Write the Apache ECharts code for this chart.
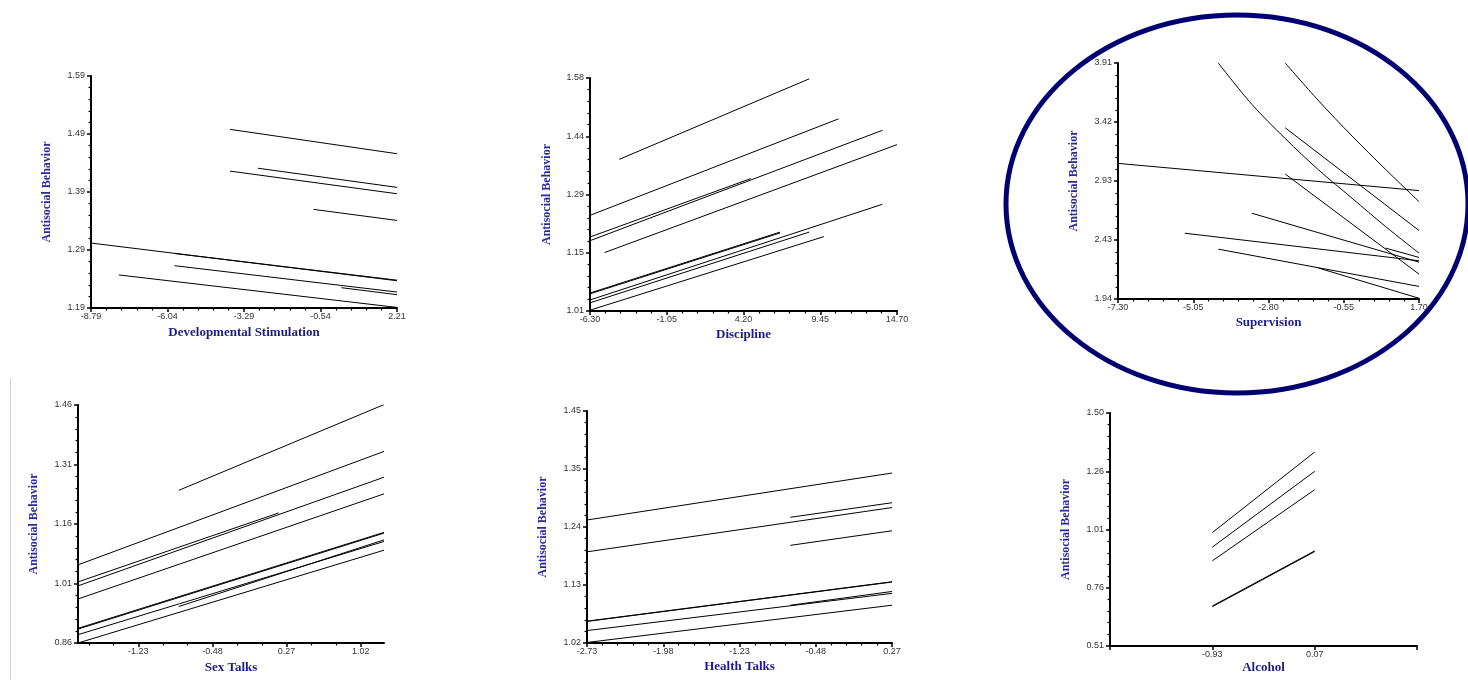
<!DOCTYPE html>
<html><head><meta charset="utf-8">
<script src="https://cdn.jsdelivr.net/npm/echarts@6/dist/echarts.min.js"></script>
<style>html,body{margin:0;padding:0;background:#fff}#c{width:1468px;height:680px}</style>
</head><body><div id="c"></div>
<script>
// ---------------- DATA ----------------
const yTitle = 'Antisocial Behavior';

const devStimTitle = 'Developmental Stimulation';
const devStimXTicks = ['-8.79', '-6.04', '-3.29', '-0.54', '2.21'];
const devStimYTicks = ['1.19', '1.29', '1.39', '1.49', '1.59'];
const devStimLines = [
  [[-3.79, 1.498], [2.21, 1.456]],
  [[-2.79, 1.431], [2.21, 1.398]],
  [[-3.79, 1.426], [2.21, 1.387]],
  [[-0.79, 1.360], [2.21, 1.341]],
  [[-8.79, 1.302], [2.21, 1.237]],
  [[-5.79, 1.284], [2.21, 1.238]],
  [[-5.79, 1.263], [2.21, 1.2175]],
  [[0.21, 1.225], [2.21, 1.213]],
  [[-7.79, 1.247], [2.21, 1.191]]
];

const disciplineTitle = 'Discipline';
const disciplineXTicks = ['-6.30', '-1.05', '4.20', '9.45', '14.70'];
const disciplineYTicks = ['1.01', '1.15', '1.29', '1.44', '1.58'];
const disciplineLines = [
  [[-4.3, 1.381], [8.7, 1.578]],
  [[-6.3, 1.244], [10.7, 1.480]],
  [[-6.3, 1.191], [4.7, 1.334]],
  [[-6.3, 1.182], [13.7, 1.452]],
  [[-5.3, 1.153], [14.7, 1.417]],
  [[-6.3, 1.052], [6.7, 1.201]],
  [[-6.3, 1.054], [6.7, 1.203]],
  [[-6.3, 1.030], [8.7, 1.203]],
  [[-6.3, 1.037], [13.7, 1.271]],
  [[-6.3, 1.012], [9.7, 1.192]]
];

const supervisionTitle = 'Supervision';
const supervisionXTicks = ['-7.30', '-5.05', '-2.80', '-0.55', '1.70'];
const supervisionYTicks = ['1.94', '2.43', '2.93', '3.42', '3.91'];
const supervisionLines = [
  [[-7.3, 3.072], [1.7, 2.845]],
  [[-2.3, 3.910], [-1.3, 3.594], [-0.3, 3.300], [0.7, 3.022], [1.7, 2.753]],
  [[-4.3, 3.910], [-3.3, 3.566], [-2.3, 3.280], [-1.3, 3.017], [-0.3, 2.781], [0.7, 2.545], [1.7, 2.323]],
  [[-2.3, 3.369], [1.7, 2.512]],
  [[-2.3, 2.983], [1.7, 2.148]],
  [[-3.3, 2.656], [1.7, 2.248]],
  [[-5.3, 2.489], [1.7, 2.259]],
  [[-4.3, 2.356], [1.7, 2.045]],
  [[-1.3, 2.198], [1.7, 1.946]],
  [[0.7, 2.365], [1.7, 2.287]]
];

const sexTalksTitle = 'Sex Talks';
const sexTalksXTicks = ['-1.23', '-0.48', '0.27', '1.02'];
const sexTalksYTicks = ['0.86', '1.01', '1.16', '1.31', '1.46'];
const sexTalksLines = [
  [[-0.82, 1.245], [1.255, 1.461]],
  [[-1.84, 1.057], [1.255, 1.343]],
  [[-1.84, 1.014], [0.19, 1.188]],
  [[-1.84, 1.004], [1.255, 1.278]],
  [[-1.84, 0.971], [1.255, 1.236]],
  [[-1.84, 0.895], [1.255, 1.137]],
  [[-1.84, 0.897], [1.255, 1.139]],
  [[-1.84, 0.881], [1.255, 1.116]],
  [[-0.82, 0.952], [1.255, 1.120]],
  [[-1.84, 0.860], [1.255, 1.094]]
];

const healthTalksTitle = 'Health Talks';
const healthTalksXTicks = ['-2.73', '-1.98', '-1.23', '-0.48', '0.27'];
const healthTalksYTicks = ['1.02', '1.13', '1.24', '1.35', '1.45'];
const healthTalksLines = [
  [[-2.73, 1.248], [0.27, 1.335]],
  [[-0.73, 1.253], [0.27, 1.280]],
  [[-2.73, 1.189], [0.27, 1.271]],
  [[-0.73, 1.201], [0.27, 1.228]],
  [[-2.73, 1.060], [0.27, 1.133]],
  [[-2.73, 1.0605], [0.27, 1.1335]],
  [[-2.73, 1.043], [0.27, 1.112]],
  [[-0.73, 1.090], [0.27, 1.1155]],
  [[-2.73, 1.021], [0.27, 1.090]]
];

const alcoholTitle = 'Alcohol';
const alcoholXTicks = ['', '-0.93', '0.07', ''];
const alcoholYTicks = ['0.51', '0.76', '1.01', '1.26', '1.50'];
const alcoholLines = [
  [[-0.93, 0.992], [0.07, 1.334]],
  [[-0.93, 0.930], [0.07, 1.252]],
  [[-0.93, 0.872], [0.07, 1.174]],
  [[-0.93, 0.677], [0.07, 0.911]],
  [[-0.93, 0.680], [0.07, 0.914]]
];

// ---------------- LAYOUT ----------------
function even(a, b, n) {
  const r = [];
  for (let i = 0; i < n; i++) r.push(i === n - 1 ? b : (i === 0 ? a : a + (b - a) * i / (n - 1)));
  return r;
}
function minors(majors, sub) {
  const r = [];
  for (let i = 0; i < majors.length - 1; i++) {
    for (let k = 1; k < sub; k++) r.push(majors[i] + (majors[i + 1] - majors[i]) * k / sub);
  }
  return r;
}
function stepTicks(start, step, lo, hi) {
  const r = []; let v = start;
  while (v - step >= lo - 1e-9) v -= step;
  for (; v <= hi + 1e-9; v += step) r.push(+v.toFixed(6));
  return r;
}

const panels = [];
function evenAxis(labels, sub) {
  const lo = parseFloat(labels[0]), hi = parseFloat(labels[labels.length - 1]);
  const t = even(lo, hi, labels.length);
  return { min: lo, max: hi, ticks: t, labels: labels, minor: minors(t, sub) };
}
panels.push({ box: [91, 76, 306, 232], title: devStimTitle, lines: devStimLines,
  x: evenAxis(devStimXTicks, 5), y: evenAxis(devStimYTicks, 5), xGap: 18, yGap: 38 });
panels.push({ box: [590, 78, 307, 233], title: disciplineTitle, lines: disciplineLines,
  x: evenAxis(disciplineXTicks, 5), y: evenAxis(disciplineYTicks, 5), xGap: 17, yGap: 37 });
panels.push({ box: [1118, 63, 301, 236], title: supervisionTitle, lines: supervisionLines, smooth: 0.35,
  x: evenAxis(supervisionXTicks, 5), y: evenAxis(supervisionYTicks, 5), xGap: 17, yGap: 38 });
(function () {
  const xt = sexTalksXTicks.map(parseFloat);
  const lo = -1.84, hi = 1.255;
  panels.push({ box: [78, 405, 306, 238], title: sexTalksTitle, lines: sexTalksLines,
    x: { min: lo, max: hi, ticks: xt, labels: sexTalksXTicks,
         minor: stepTicks(xt[0], 0.25, lo, hi).filter(v => !xt.some(t => Math.abs(t - v) < 1e-6)) },
    y: evenAxis(sexTalksYTicks, 5), xGap: 18, yGap: 38 });
})();
panels.push({ box: [587, 411, 305, 232], title: healthTalksTitle, lines: healthTalksLines,
  x: evenAxis(healthTalksXTicks, 5), y: evenAxis(healthTalksYTicks, 5), xGap: 17, yGap: 38 });
(function () {
  const lo = -1.93, hi = 1.07;
  const t = even(lo, hi, alcoholXTicks.length);
  panels.push({ box: [1110, 413, 307, 233], title: alcoholTitle, lines: alcoholLines,
    x: { min: lo, max: hi, ticks: t, labels: alcoholXTicks, minor: [] },
    y: evenAxis(alcoholYTicks, 5), xGap: 15, yGap: 38 });
})();

const grids = [], xAxes = [], yAxes = [], series = [];
const labelFont = { fontFamily: 'Liberation Sans, Arial, sans-serif', fontSize: 9, color: '#333' };
function fmt(ax) {
  return function (v) {
    const i = ax.ticks.findIndex(t => Math.abs(t - v) < 1e-6 * Math.max(1, Math.abs(t)));
    return i >= 0 ? ax.labels[i] : '';
  };
}
panels.forEach((p, gi) => {
  grids.push({ left: p.box[0], top: p.box[1], width: p.box[2], height: p.box[3], containLabel: false });
  const xi = xAxes.length, yi = yAxes.length;
  xAxes.push({
    type: 'value', gridIndex: gi, min: p.x.min, max: p.x.max, position: 'bottom',
    axisLine: { show: true, onZero: false, lineStyle: { color: '#000', width: 2 } },
    axisTick: { show: true, customValues: p.x.ticks, length: 4, lineStyle: { color: '#000', width: 1.5 } },
    axisLabel: Object.assign({ show: true, customValues: p.x.ticks, formatter: fmt(p.x), margin: 4, hideOverlap: false, showMinLabel: true, showMaxLabel: true }, labelFont),
    splitLine: { show: false }, minorTick: { show: false },
    name: p.title, nameLocation: 'middle', nameGap: p.xGap,
    nameTextStyle: { fontFamily: 'Liberation Serif, Times New Roman, serif', fontWeight: 'bold', fontSize: 13, color: '#1c1c8a' }
  });
  xAxes.push({
    type: 'value', gridIndex: gi, min: p.x.min, max: p.x.max, position: 'bottom',
    axisLine: { show: false, onZero: false },
    axisTick: { show: p.x.minor.length > 0, customValues: p.x.minor.length ? p.x.minor : [p.x.min], length: 2.5, lineStyle: { color: '#000', width: 1.2 } },
    axisLabel: { show: false }, splitLine: { show: false }
  });
  yAxes.push({
    type: 'value', gridIndex: gi, min: p.y.min, max: p.y.max, position: 'left',
    axisLine: { show: true, onZero: false, lineStyle: { color: '#000', width: 2 } },
    axisTick: { show: true, customValues: p.y.ticks, length: 4, lineStyle: { color: '#000', width: 1.5 } },
    axisLabel: Object.assign({ show: true, customValues: p.y.ticks, formatter: fmt(p.y), margin: 6, hideOverlap: false, showMinLabel: true, showMaxLabel: true }, labelFont),
    splitLine: { show: false }, minorTick: { show: false },
    name: yTitle, nameLocation: 'middle', nameGap: p.yGap,
    nameTextStyle: { fontFamily: 'Liberation Serif, Times New Roman, serif', fontWeight: 'bold', fontSize: 12, color: '#2a2a9c' }
  });
  yAxes.push({
    type: 'value', gridIndex: gi, min: p.y.min, max: p.y.max, position: 'left',
    axisLine: { show: false, onZero: false },
    axisTick: { show: true, customValues: p.y.minor, length: 2.5, lineStyle: { color: '#000', width: 1.2 } },
    axisLabel: { show: false }, splitLine: { show: false }
  });
  p.lines.forEach(ln => {
    series.push({
      type: 'line', xAxisIndex: xi, yAxisIndex: yi, data: ln, showSymbol: false, symbol: 'none',
      smooth: (p.smooth && ln.length > 2) ? p.smooth : false,
      lineStyle: { color: '#000', width: 1 }, silent: true, animation: false, z: 3
    });
  });
});

const chart = echarts.init(document.getElementById('c'), null, { renderer: 'canvas' });
chart.setOption({
  backgroundColor: '#fff',
  animation: false,
  grid: grids, xAxis: xAxes, yAxis: yAxes, series: series,
  graphic: [
    { type: 'ellipse', shape: { cx: 1237, cy: 204, rx: 231, ry: 189 },
      style: { fill: 'none', stroke: '#000073', lineWidth: 5 }, z: 10, silent: true },
    { type: 'line', shape: { x1: 10.5, y1: 378, x2: 10.5, y2: 680 },
      style: { stroke: '#d0d0d0', lineWidth: 1 }, silent: true }
  ]
});
</script>
</body></html>
